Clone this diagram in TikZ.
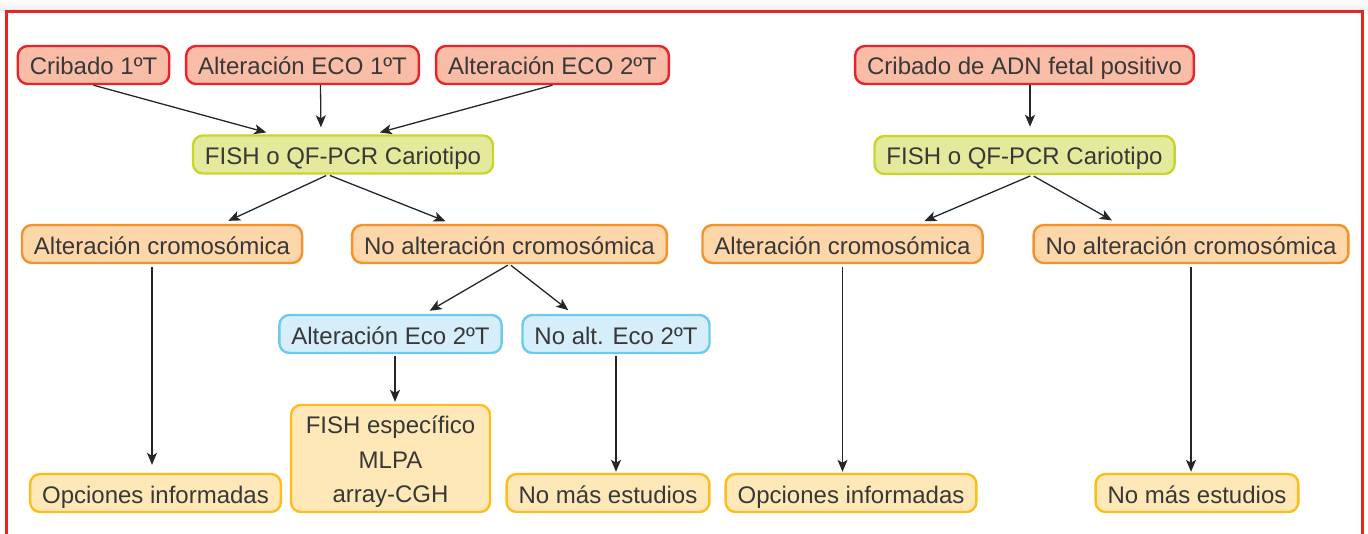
\documentclass[tikz,border=0pt]{standalone}
\usepackage{fontspec}
\setmainfont{Liberation Sans}
\usepackage{tikz}
\usetikzlibrary{arrows.meta}
\usepackage{xcolor}
\definecolor{marco}{HTML}{E52521}
\definecolor{texto}{HTML}{383838}
\definecolor{rojoborde}{HTML}{E8232B}
\definecolor{rojofondo}{HTML}{F9BCA6}
\definecolor{verdeborde}{HTML}{C8D52B}
\definecolor{verdefondo}{HTML}{E3EA9C}
\definecolor{naranjaborde}{HTML}{F4932B}
\definecolor{naranjafondo}{HTML}{FDD6AA}
\definecolor{azulborde}{HTML}{6DCAEF}
\definecolor{azulfondo}{HTML}{D5EEFA}
\definecolor{amarilloborde}{HTML}{FDBE1C}
\definecolor{amarillofondo}{HTML}{FFE8B7}

\begin{document}
\begin{tikzpicture}[x=0.5pt,y=-0.5pt,
  caja/.style={rounded corners=5pt, line width=1.2pt, inner xsep=6pt, inner ysep=0pt,
    minimum height=19pt, text height=11pt, text depth=1pt, text=texto,
    font=\fontsize{12}{17.25}\selectfont},
  cribado/.style={caja, draw=rojoborde, fill=rojofondo},
  prueba/.style={caja, draw=verdeborde, fill=verdefondo},
  resultado/.style={caja, draw=naranjaborde, fill=naranjafondo},
  eco/.style={caja, draw=azulborde, fill=azulfondo},
  final/.style={caja, draw=amarilloborde, fill=amarillofondo},
  flecha/.style={-{Stealth[length=6pt,width=5pt,inset=1.5pt]}, line width=0.65pt, draw=black!85}]
  \useasboundingbox (0,0) rectangle (1368,534);
  % marco
  \begin{scope}
    \clip (0,0) rectangle (1368,534);
    \shade[top color=white, bottom color=black!7] (0,0) rectangle (1368,11);
    \draw[marco, line width=1.5pt] (6,12) rectangle (1362,600);
  \end{scope}

  % lado izquierdo
  \node[cribado] (c1t) at (93.5,65) {Cribado 1ºT};
  \node[cribado] (e1t) at (302.5,65) {Alteración ECO 1ºT};
  \node[cribado] (e2t) at (552.5,65) {Alteración ECO 2ºT};
  \node[prueba] (fishL) at (343,154.5) {FISH o QF-PCR Cariotipo};
  \node[resultado] (altL) at (162,244) {Alteración cromosómica};
  \node[resultado] (noaltL) at (509.5,244) {No alteración cromosómica};
  \node[eco] (altEco) at (390.5,334) {Alteración Eco 2ºT};
  \node[eco] (noaltEco) at (616,334) {No alt. Eco 2ºT};
  \node[final, align=center, text height=45pt, text depth=1pt,
    minimum width=99.5pt, minimum height=53.5pt] (fishEsp) at (390.5,458.5)
    {FISH específico\\MLPA\\array-CGH};
  \node[final] (opcL) at (155.5,493) {Opciones informadas};
  \node[final] (nomasL) at (608,493) {No más estudios};

  % lado derecho
  \node[cribado] (adn) at (1024.5,65) {Cribado de ADN fetal positivo};
  \node[prueba] (fishR) at (1024.5,155) {FISH o QF-PCR Cariotipo};
  \node[resultado] (altR) at (842.5,244) {Alteración cromosómica};
  \node[resultado] (noaltR) at (1191,244) {No alteración cromosómica};
  \node[final] (opcR) at (851,493) {Opciones informadas};
  \node[final] (nomasR) at (1197,493) {No más estudios};

  % flechas izquierda
  \draw[flecha, shorten >=3.5pt] (c1t.south) -- ([xshift=-35pt]fishL.north);
  \draw[flecha, shorten >=3.5pt] ([xshift=9pt]e1t.south) -- ([xshift=-11pt]fishL.north);
  \draw[flecha, shorten >=3.5pt] (e2t.south) -- ([xshift=15pt]fishL.north);
  \draw[flecha, shorten <=1pt, shorten >=3.5pt] ([xshift=-7.5pt]fishL.south) -- ([xshift=30pt]altL.north);
  \draw[flecha, shorten <=1pt, shorten >=3.5pt] ([xshift=-7.5pt]fishL.south) -- ([xshift=-28.75pt]noaltL.north);
  \draw[flecha, shorten <=1pt, shorten >=3pt] (noaltL.south) -- ([xshift=17pt]altEco.north);
  \draw[flecha, shorten <=1pt, shorten >=3pt] (noaltL.south) -- ([xshift=-21.5pt]noaltEco.north);
  \draw[flecha, shorten <=1.5pt, shorten >=4pt] ([xshift=-5pt]altL.south) -- ([xshift=-5pt]altL.south |- opcL.north);
  \draw[flecha, shorten <=1pt, shorten >=1pt] ([xshift=2.25pt]altEco.south) -- ([xshift=2.25pt]altEco.south |- fishEsp.north);
  \draw[flecha, shorten <=1pt, shorten >=0.5pt] (noaltEco.south) -- (noaltEco.south |- nomasL.north);

  % flechas derecha
  \draw[flecha, shorten >=4pt] ([xshift=2.75pt]adn.south) -- ([xshift=2.75pt]fishR.north);
  \draw[flecha, shorten <=1pt, shorten >=3.5pt] ([xshift=3.75pt]fishR.south) -- ([xshift=37.75pt]altR.north);
  \draw[flecha, shorten <=1pt, shorten >=3.5pt] ([xshift=3.75pt]fishR.south) -- ([xshift=-36.5pt]noaltR.north);
  \draw[flecha, shorten <=1.5pt, shorten >=0.5pt] (altR.south) -- (altR.south |- opcR.north);
  \draw[flecha, shorten <=1.5pt, shorten >=0.5pt] (noaltR.south) -- (noaltR.south |- nomasR.north);
\end{tikzpicture}
\end{document}
